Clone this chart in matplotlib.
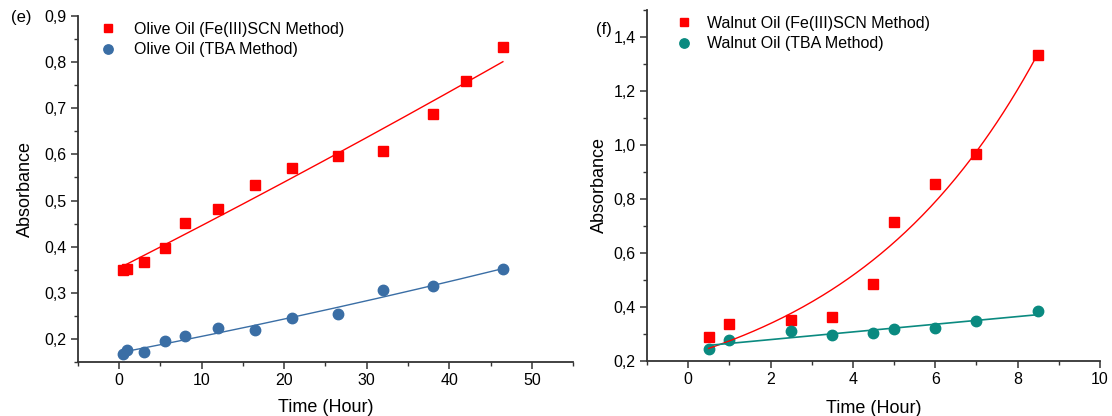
import matplotlib
matplotlib.use("Agg")
import matplotlib.pyplot as plt
import numpy as np
from matplotlib.ticker import MultipleLocator, FuncFormatter

plt.rcParams['font.family'] = ['Liberation Sans', 'DejaVu Sans']

# Olive oil (panel e)
olive_t = [0.5, 1, 3, 5.5, 8, 12, 16.5, 21, 26.5, 32, 38, 42, 46.5]
olive_fe = [0.350, 0.352, 0.366, 0.398, 0.452, 0.481, 0.533, 0.570, 0.596, 0.607, 0.688, 0.760, 0.832]
olive_tba_t = [0.5, 1, 3, 5.5, 8, 12, 16.5, 21, 26.5, 32, 38, 46.5]
olive_tba = [0.168, 0.175, 0.172, 0.195, 0.206, 0.223, 0.220, 0.246, 0.255, 0.305, 0.314, 0.352]

# Walnut oil (panel f)
walnut_t = [0.5, 1, 2.5, 3.5, 4.5, 5, 6, 7, 8.5]
walnut_fe = [0.290, 0.338, 0.352, 0.362, 0.487, 0.715, 0.855, 0.965, 1.333]
walnut_tba = [0.243, 0.276, 0.312, 0.298, 0.302, 0.318, 0.323, 0.347, 0.386]

RED = '#ff0000'
BLUE = '#3a6ea5'
TEAL = '#0a8a80'


def exp_fit(x, y):
    # least squares fit of y = a*exp(b*x), b found by grid search
    x = np.asarray(x, float)
    y = np.asarray(y, float)
    best = None
    for b in np.linspace(-0.5, 0.5, 20001):
        e = np.exp(b * x)
        a = (y @ e) / (e @ e)
        r = np.sum((y - a * e) ** 2)
        if best is None or r < best[0]:
            best = (r, a, b)
    return best[1], best[2]


comma = FuncFormatter(lambda v, p: ('%.1f' % v).replace('.', ','))


def style(ax):
    for s in ['top', 'right']:
        ax.spines[s].set_visible(False)
    for s in ['left', 'bottom']:
        ax.spines[s].set_color('#333333')
        ax.spines[s].set_linewidth(1.3)
    ax.tick_params(which='major', direction='out', length=5, width=1.1,
                   color='#333333', labelsize=11.5, pad=3)
    ax.tick_params(which='minor', direction='out', length=3, width=1.0,
                   color='#333333')
    ax.yaxis.set_major_formatter(comma)


fig = plt.figure(figsize=(11.12, 4.16), dpi=100)

# ---- panel (e)
ax1 = fig.add_axes([0.0701, 0.1298, 0.4452, 0.8317])
ax1.plot(olive_t, olive_fe, 's', color=RED, ms=7, label='Olive Oil (Fe(III)SCN Method)')
ax1.plot(olive_tba_t, olive_tba, 'o', color=BLUE, ms=7.5, label='Olive Oil (TBA Method)')
c = np.polyfit(olive_t, olive_fe, 2)
xf = np.linspace(min(olive_t), max(olive_t), 200)
ax1.plot(xf, np.polyval(c, xf), '-', color=RED, lw=1)
c = np.polyfit(olive_tba_t, olive_tba, 2)
xf = np.linspace(1, max(olive_tba_t), 200)
ax1.plot(xf, np.polyval(c, xf), '-', color=BLUE, lw=1)
ax1.set_xlim(-5, 55)
ax1.set_ylim(0.15, 0.9)
ax1.xaxis.set_major_locator(MultipleLocator(10))
ax1.xaxis.set_minor_locator(MultipleLocator(5))
ax1.yaxis.set_major_locator(MultipleLocator(0.1))
ax1.yaxis.set_minor_locator(MultipleLocator(0.05))
style(ax1)
ax1.set_xlabel('Time (Hour)', fontsize=13, labelpad=8)
ax1.set_ylabel('Absorbance', fontsize=13, labelpad=8)
ax1.legend(loc='upper left', bbox_to_anchor=(0.0, 1.025), frameon=False,
           fontsize=11.5, handletextpad=0.6, labelspacing=0.35, markerscale=0.9)
fig.text(0.010, 0.947, '(e)', fontsize=12)

# ---- panel (f)
ax2 = fig.add_axes([0.5818, 0.1322, 0.4074, 0.8438])
ax2.plot(walnut_t, walnut_fe, 's', color=RED, ms=7, label='Walnut Oil (Fe(III)SCN Method)')
ax2.plot(walnut_t, walnut_tba, 'o', color=TEAL, ms=7.5, label='Walnut Oil (TBA Method)')
a, b = exp_fit(walnut_t, walnut_fe)
xf = np.linspace(min(walnut_t), max(walnut_t), 200)
ax2.plot(xf, a * np.exp(b * xf), '-', color=RED, lw=1)
c = np.polyfit(walnut_t, walnut_tba, 1)
ax2.plot(xf, np.polyval(c, xf), '-', color=TEAL, lw=1.2)
ax2.set_xlim(-1, 10)
ax2.set_ylim(0.2, 1.5)
ax2.xaxis.set_major_locator(MultipleLocator(2))
ax2.xaxis.set_minor_locator(MultipleLocator(1))
ax2.yaxis.set_major_locator(MultipleLocator(0.2))
ax2.yaxis.set_minor_locator(MultipleLocator(0.1))
style(ax2)
ax2.set_xlabel('Time (Hour)', fontsize=13, labelpad=9)
ax2.set_ylabel('Absorbance', fontsize=13, labelpad=4)
ax2.legend(loc='upper left', bbox_to_anchor=(0.015, 1.025), frameon=False,
           fontsize=11.5, handletextpad=0.45, labelspacing=0.35, markerscale=0.9)
fig.text(0.536, 0.918, '(f)', fontsize=12)

fig.savefig('out.png', dpi=100)
